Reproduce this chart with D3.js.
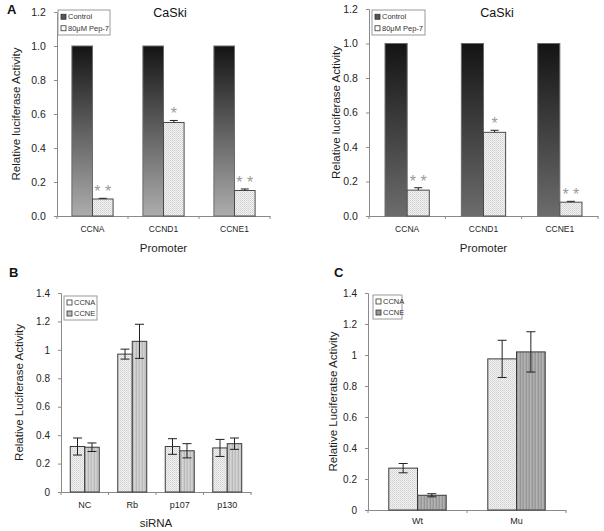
<!DOCTYPE html>
<html>
<head>
<meta charset="utf-8">
<script src="https://cdn.jsdelivr.net/npm/d3@7"></script>
<style>
  html, body { margin: 0; padding: 0; background: #fff; }
  svg { display: block; font-family: "Liberation Sans", Arial, sans-serif; }
</style>
</head>
<body>
<svg id="chart" width="604" height="531"></svg>
<script>
// ---------- DATA ----------
const promoters = ["CCNA", "CCND1", "CCNE1"];
const seriesA = ["Control", "80μM Pep-7"];
const controlA1 = [1, 1, 1];
const pepA1 = [0.10, 0.55, 0.15];
const pepA1Err = [0.004, 0.012, 0.009];
const sigA1 = ["* *", "*", "* *"];
const controlA2 = [1, 1, 1];
const pepA2 = [0.15, 0.485, 0.08];
const pepA2Err = [0.014, 0.012, 0.005];
const sigA2 = ["* *", "*", "* *"];
const ticksA = [0, 0.2, 0.4, 0.6, 0.8, 1.0, 1.2];

const sirnas = ["NC", "Rb", "p107", "p130"];
const seriesBC = ["CCNA", "CCNE"];
const ccnaB = [0.32, 0.97, 0.32, 0.31];
const ccnaBErr = [0.06, 0.035, 0.055, 0.06];
const ccneB = [0.315, 1.06, 0.29, 0.34];
const ccneBErr = [0.03, 0.12, 0.05, 0.04];

const groupsC = ["Wt", "Mu"];
const ccnaC = [0.27, 0.975];
const ccnaCErr = [0.03, 0.12];
const ccneC = [0.095, 1.02];
const ccneCErr = [0.01, 0.13];
const ticksBC = [0, 0.2, 0.4, 0.6, 0.8, 1, 1.2, 1.4];

// ---------- DEFS ----------
const svg = d3.select("#chart");
const defs = svg.append("defs");

function gradient(id, top, bottom) {
  const g = defs.append("linearGradient").attr("id", id)
    .attr("x1", 0).attr("y1", 0).attr("x2", 0).attr("y2", 1);
  g.append("stop").attr("offset", "0%").attr("stop-color", top);
  g.append("stop").attr("offset", "100%").attr("stop-color", bottom);
}
gradient("gradL", "#141414", "#adadad");
gradient("gradR", "#141414", "#6c6c6c");

// dotted light pattern
const dots = defs.append("pattern").attr("id", "dots")
  .attr("patternUnits", "userSpaceOnUse").attr("width", 2).attr("height", 2);
dots.append("rect").attr("width", 2).attr("height", 2).attr("fill", "#f1f1f1");
dots.append("rect").attr("width", 1).attr("height", 1).attr("fill", "#d2d2d2");
dots.append("rect").attr("x", 1).attr("y", 1).attr("width", 1).attr("height", 1).attr("fill", "#dcdcdc");

function stripes(id, cols) {
  const p = defs.append("pattern").attr("id", id)
    .attr("patternUnits", "userSpaceOnUse").attr("width", cols.length).attr("height", 4);
  cols.forEach((c, i) => p.append("rect").attr("x", i).attr("y", 0)
    .attr("width", 1).attr("height", 4).attr("fill", c));
}
stripes("stripeB", ["#c8c8c8", "#bdbdbd", "#d6d6d6", "#cacaca", "#b8b8b8", "#d2d2d2"]);
stripes("stripeC", ["#a3a3a3", "#9a9a9a", "#b3b3b3", "#a8a8a8", "#959595", "#b0b0b0"]);

const axisColor = "#8a8a8a";
const textColor = "#1e1e1e";

// ---------- GENERIC PANEL ----------
function panel(opt) {
  const g = svg.append("g");
  const pad = opt.pad;
  const x = d3.scaleBand().domain(opt.cats).range([opt.x0, opt.x1])
    .paddingInner(pad).paddingOuter(pad / 2);
  const step = x.step();
  const xs = d3.scaleBand().domain(opt.series).range([0, x.bandwidth()]);
  const y = d3.scaleLinear().domain([0, opt.ymax]).range([opt.yb, opt.yt]);

  // y axis
  const ya = g.append("g").attr("transform", `translate(${opt.x0},0)`)
    .call(d3.axisLeft(y).tickValues(opt.ticks).tickSize(3).tickFormat(opt.fmt));
  ya.select(".domain").attr("stroke", axisColor);
  ya.selectAll(".tick line").attr("stroke", axisColor);
  ya.selectAll(".tick text").attr("fill", textColor).attr("font-size", opt.yfs)
    .attr("font-family", "Liberation Sans, Arial, sans-serif").attr("dx", "-0.5em");

  // x axis line with boundary ticks
  const xa = g.append("g").attr("transform", `translate(0,${opt.yb})`)
    .call(d3.axisBottom(x).tickSize(0).tickPadding(opt.xlpad));
  xa.select(".domain").attr("stroke", axisColor);
  xa.selectAll(".tick text").attr("fill", textColor).attr("font-size", opt.xfs)
    .attr("font-family", "Liberation Sans, Arial, sans-serif");
  const bounds = opt.cats.map(c => x(c) - step * pad / 2).concat([opt.x1]);
  xa.selectAll("line.bt").data(bounds).join("line").attr("class", "bt")
    .attr("x1", d => d).attr("x2", d => d).attr("y1", 0).attr("y2", 3)
    .attr("stroke", axisColor);

  // bars
  opt.series.forEach((s, si) => {
    const vals = opt.values[si];
    const errs = opt.errors[si];
    g.selectAll(null).data(opt.cats).join("rect")
      .attr("x", c => x(c) + xs(s))
      .attr("y", (c, i) => y(vals[i]))
      .attr("width", xs.bandwidth())
      .attr("height", (c, i) => y(0) - y(vals[i]))
      .attr("fill", opt.fills[si])
      .attr("stroke", opt.strokes[si]).attr("stroke-width", 1);
    if (errs) {
      const cw = opt.capW;
      opt.cats.forEach((c, i) => {
        if (!errs[i]) return;
        const cx = x(c) + xs(s) + xs.bandwidth() / 2;
        const hi = y(vals[i] + errs[i]), lo = y(vals[i] - errs[i]);
        g.append("line").attr("x1", cx).attr("x2", cx).attr("y1", hi).attr("y2", opt.upOnly ? y(vals[i]) : lo)
          .attr("stroke", "#222");
        g.append("line").attr("x1", cx - cw / 2).attr("x2", cx + cw / 2).attr("y1", hi).attr("y2", hi)
          .attr("stroke", "#222");
        if (!opt.upOnly)
          g.append("line").attr("x1", cx - cw / 2).attr("x2", cx + cw / 2).attr("y1", lo).attr("y2", lo)
            .attr("stroke", "#222");
      });
    }
    if (opt.sig && si === 1) {
      opt.cats.forEach((c, i) => {
        const cx = x(c) + xs(s) + xs.bandwidth() / 2;
        g.append("text").attr("x", cx).attr("y", y(vals[i] + errs[i]) - 1)
          .attr("text-anchor", "middle").attr("font-size", 16).attr("fill", "#9a9a9a")
          .text(opt.sig[i]);
      });
    }
  });

  // y title
  g.append("text").attr("transform", `translate(${opt.ytx},${(opt.yt + opt.yb) / 2}) rotate(-90)`)
    .attr("text-anchor", "middle").attr("font-size", 11.5).attr("fill", textColor)
    .text(opt.ytitle);
  if (opt.xtitle)
    g.append("text").attr("x", (opt.x0 + opt.x1) / 2).attr("y", opt.xty)
      .attr("text-anchor", "middle").attr("font-size", 11.5).attr("fill", textColor)
      .text(opt.xtitle);
  if (opt.title)
    g.append("text").attr("x", opt.titleX).attr("y", 17)
      .attr("text-anchor", "middle").attr("font-size", 12.5).attr("fill", "#111")
      .text(opt.title);

  // legend
  const L = opt.legend;
  const lg = g.append("g").attr("transform", `translate(${L.x},${L.y})`);
  lg.append("rect").attr("width", L.w).attr("height", L.h)
    .attr("fill", "#fff").attr("stroke", "#9a9a9a").attr("stroke-width", 1);
  opt.series.forEach((s, si) => {
    const yy = L.h * (si === 0 ? 0.27 : 0.73);
    lg.append("rect").attr("x", 3).attr("y", yy - 2.5).attr("width", 5).attr("height", 5)
      .attr("fill", L.sw[si]).attr("stroke", "#333").attr("stroke-width", 0.8);
    lg.append("text").attr("x", 10).attr("y", yy + 2.5).attr("font-size", 7.5)
      .attr("fill", "#333").text(s);
  });

  return g;
}

// ---------- PANEL A (left) ----------
panel({
  cats: promoters, series: seriesA, x0: 57, x1: 270, pad: 0.42,
  ymax: 1.2, yb: 216, yt: 12, ticks: ticksA, fmt: d3.format(".1f"),
  values: [controlA1, pepA1], errors: [null, pepA1Err],
  fills: ["url(#gradL)", "url(#dots)"], strokes: ["#6a6a6a", "#4a4a4a"],
  capW: 8, upOnly: true, sig: sigA1,
  yfs: 10.5, xfs: 8.5, xlpad: 10,
  ytitle: "Relative luciferase Activity", ytx: 20,
  xtitle: "Promoter", xty: 252, title: "CaSki", titleX: 170,
  legend: { x: 58, y: 10, w: 52, h: 25, sw: ["#555", "#fff"] }
});

// ---------- PANEL A (right) ----------
panel({
  cats: promoters, series: seriesA, x0: 369, x1: 598, pad: 0.42,
  ymax: 1.2, yb: 216, yt: 9, ticks: ticksA, fmt: d3.format(".1f"),
  values: [controlA2, pepA2], errors: [null, pepA2Err],
  fills: ["url(#gradR)", "url(#dots)"], strokes: ["#6a6a6a", "#4a4a4a"],
  capW: 8, upOnly: true, sig: sigA2,
  yfs: 10.5, xfs: 8.5, xlpad: 10,
  ytitle: "Relative luciferase Activity", ytx: 340,
  xtitle: "Promoter", xty: 252, title: "CaSki", titleX: 497,
  legend: { x: 372, y: 10, w: 53, h: 25, sw: ["#555", "#fff"] }
});

// ---------- PANEL B ----------
panel({
  cats: sirnas, series: seriesBC, x0: 61, x1: 251, pad: 0.39,
  ymax: 1.4, yb: 492, yt: 293, ticks: ticksBC, fmt: d3.format("~g"),
  values: [ccnaB, ccneB], errors: [ccnaBErr, ccneBErr],
  fills: ["url(#dots)", "url(#stripeB)"], strokes: ["#3a3a3a", "#3a3a3a"],
  capW: 9, upOnly: false, sig: null,
  yfs: 10, xfs: 9, xlpad: 10,
  ytitle: "Relative Luciferase Activity", ytx: 23,
  xtitle: "siRNA", xty: 527,
  legend: { x: 64, y: 296, w: 33, h: 24, sw: ["#fff", "#bbb"] }
});

// ---------- PANEL C ----------
panel({
  cats: groupsC, series: seriesBC, x0: 368, x1: 566, pad: 0.42,
  ymax: 1.4, yb: 510, yt: 293, ticks: ticksBC, fmt: d3.format("~g"),
  values: [ccnaC, ccneC], errors: [ccnaCErr, ccneCErr],
  fills: ["url(#dots)", "url(#stripeC)"], strokes: ["#3a3a3a", "#3a3a3a"],
  capW: 9, upOnly: false, sig: null,
  yfs: 10, xfs: 9, xlpad: 8,
  ytitle: "Relative Luciferatse Activity", ytx: 337,
  xtitle: null,
  legend: { x: 373, y: 295, w: 29, h: 24, sw: ["#fff", "#999"] }
});

// ---------- PANEL LETTERS ----------
[["A", 7, 14], ["B", 9, 277], ["C", 334, 277]].forEach(([t, px, py]) => {
  svg.append("text").attr("x", px).attr("y", py).attr("font-size", 13)
    .attr("font-weight", "bold").attr("fill", "#111").text(t);
});
</script>
</body>
</html>
